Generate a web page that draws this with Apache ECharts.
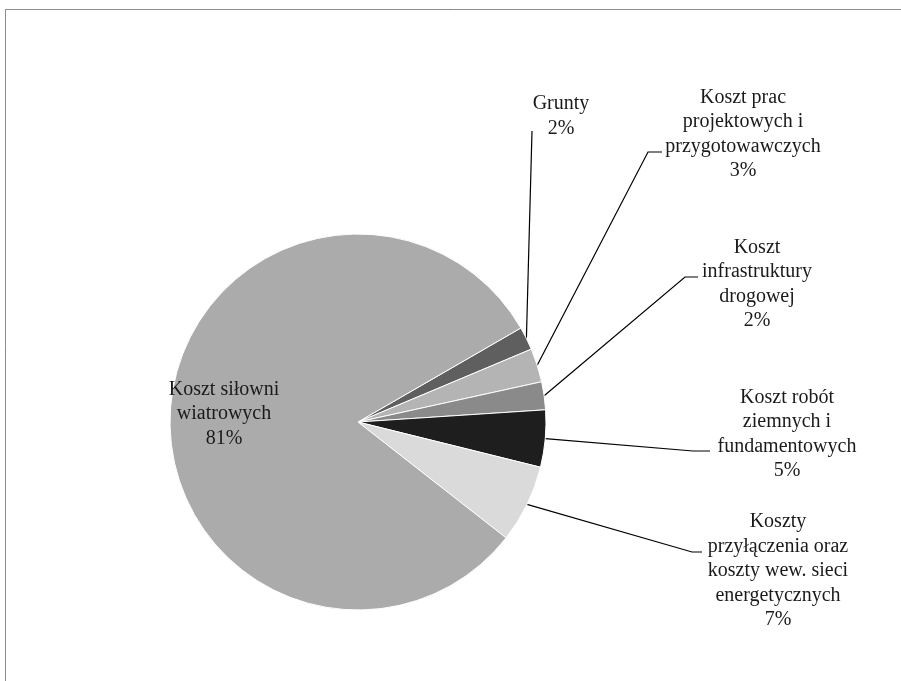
<!DOCTYPE html>
<html>
<head>
<meta charset="utf-8">
<script src="https://cdn.jsdelivr.net/npm/echarts@6/dist/echarts.min.js"></script>
<style>
html, body { margin: 0; padding: 0; background: #fff; }
#pie { width: 901px; height: 681px; }
</style>
</head>
<body>
<div id="pie"></div>
<script>
var names = [
    'Grunty',
    'Koszt prac\nprojektowych i\nprzygotowawczych',
    'Koszt\ninfrastruktury\ndrogowej',
    'Koszt robót\nziemnych i\nfundamentowych',
    'Koszty\nprzyłączenia oraz\nkoszty wew. sieci\nenergetycznych',
    'Koszt siłowni\nwiatrowych'
];
var values = [2.0, 2.9, 2.4, 4.9, 6.7, 81.1];
var colors = ['#5f5f5f', '#b4b4b4', '#8a8a8a', '#1e1e1e', '#dadada', '#ababab'];

// where each label sits (center) and where its leader line ends
var labelPos = [
    { x: 561, y: 116, bend: [532, 131], end: [532, 131] },
    { x: 743, y: 134, bend: [648, 152], end: [662, 152] },
    { x: 757, y: 284, bend: [685, 277], end: [698, 277] },
    { x: 787, y: 434, bend: [693, 451], end: [710, 451] },
    { x: 778, y: 571, bend: [692, 552], end: [702, 552] },
    { x: 224, y: 414 }
];

var myChart = echarts.init(document.getElementById('pie'));

var data = names.map(function (n, i) {
    var item = { name: n, value: values[i], itemStyle: { color: colors[i] } };
    if (i === names.length - 1) {
        item.labelLine = { show: false };
    }
    return item;
});

option = {
    backgroundColor: '#fff',
    animation: false,
    graphic: [
        { type: 'line', shape: { x1: 5.5, y1: 9.5, x2: 901, y2: 9.5 }, style: { stroke: '#8c8c8c', lineWidth: 1 } },
        { type: 'line', shape: { x1: 5.5, y1: 9.5, x2: 5.5, y2: 681 }, style: { stroke: '#8c8c8c', lineWidth: 1 } }
    ],
    series: [{
        name: 'Koszty',
        type: 'pie',
        radius: 188,
        center: [358, 422],
        startAngle: 30,
        clockwise: true,
        percentPrecision: 0,
        data: data,
        itemStyle: {
            borderColor: '#fff',
            borderWidth: 1
        },
        label: {
            show: true,
            formatter: '{b}\n{d}%',
            fontFamily: '"Liberation Serif", serif',
            fontSize: 20,
            lineHeight: 24.5,
            color: '#1a1a1a',
            align: 'center',
            overflow: 'none'
        },
        labelLine: {
            show: true,
            lineStyle: { color: '#000', width: 1.2 }
        },
        labelLayout: function (params) {
            var p = labelPos[params.dataIndex];
            var res = { x: p.x, y: p.y, align: 'center', verticalAlign: 'middle' };
            if (p.end && params.labelLinePoints) {
                res.labelLinePoints = [params.labelLinePoints[0], p.bend, p.end];
            }
            return res;
        }
    }]
};
myChart.setOption(option);
</script>
</body>
</html>
